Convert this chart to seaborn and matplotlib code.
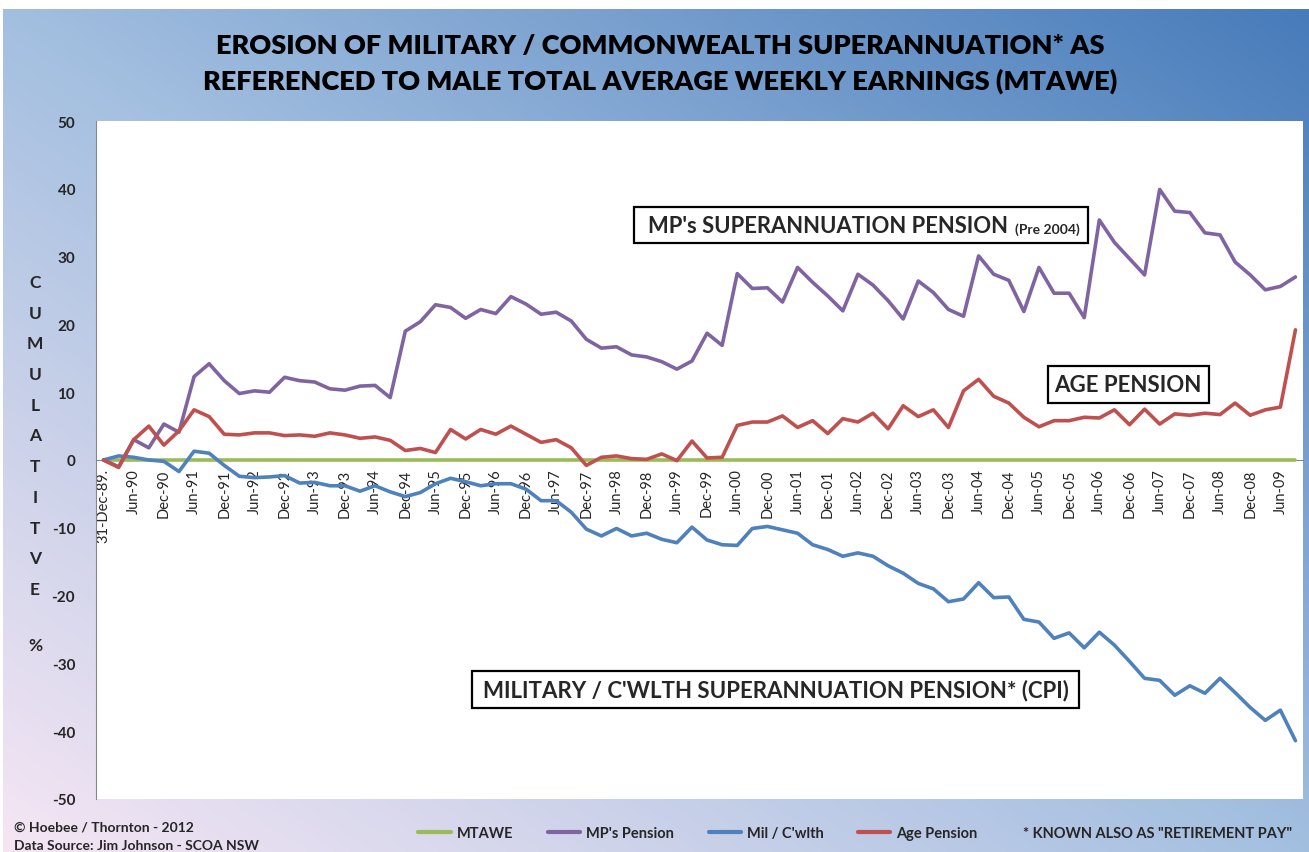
import numpy as np
import pandas as pd
import matplotlib
matplotlib.use("Agg")
import matplotlib.pyplot as plt
import seaborn as sns
from matplotlib.patches import Rectangle
from matplotlib.lines import Line2D

# ---------------- data (quarterly, 31-Dec-89 .. Sep-09) ----------------
tick_labels = ["31-Dec-89.", "Jun-90", "Dec-90", "Jun-91", "Dec-91", "Jun-92", "Dec-92",
               "Jun-93", "Dec-93", "Jun-94", "Dec-94", "Jun-95", "Dec-95", "Jun-96",
               "Dec-96", "Jun-97", "Dec-97", "Jun-98", "Dec-98", "Jun-99", "Dec-99",
               "Jun-00", "Dec-00", "Jun-01", "Dec-01", "Jun-02", "Dec-02", "Jun-03",
               "Dec-03", "Jun-04", "Dec-04", "Jun-05", "Dec-05", "Jun-06", "Dec-06",
               "Jun-07", "Dec-07", "Jun-08", "Dec-08", "Jun-09"]

mp_pension = [0.0, -1.0, 3.0, 1.8, 5.3, 4.1, 12.3, 14.2, 11.7, 9.8,
              10.2, 10.0, 12.2, 11.7, 11.5, 10.5, 10.3, 10.9, 11.0, 9.2,
              19.0, 20.4, 22.9, 22.5, 20.9, 22.2, 21.6, 24.1, 23.0, 21.5,
              21.8, 20.5, 17.8, 16.5, 16.7, 15.5, 15.2, 14.5, 13.4, 14.6,
              18.7, 16.9, 27.5, 25.3, 25.4, 23.3, 28.4, 26.2, 24.2, 22.0,
              27.4, 25.8, 23.5, 20.8, 26.4, 24.7, 22.2, 21.2, 30.1, 27.4,
              26.5, 21.9, 28.4, 24.6, 24.6, 21.0, 35.4, 32.1, 29.7, 27.3,
              39.9, 36.7, 36.5, 33.5, 33.2, 29.2, 27.3, 25.1, 25.6, 27.0]

mil_cwlth = [0.0, 0.6, 0.4, 0.0, -0.2, -1.7, 1.3, 1.0, -0.8, -2.4,
             -2.6, -2.5, -2.3, -3.4, -3.3, -3.8, -3.8, -4.6, -3.8, -4.7,
             -5.4, -4.8, -3.5, -2.7, -3.2, -3.8, -3.5, -3.5, -4.3, -6.0,
             -6.0, -7.7, -10.2, -11.2, -10.1, -11.2, -10.8, -11.7, -12.2, -9.9,
             -11.8, -12.5, -12.6, -10.1, -9.8, -10.3, -10.8, -12.5, -13.2, -14.2,
             -13.7, -14.2, -15.6, -16.7, -18.2, -19.0, -20.9, -20.5, -18.1, -20.3,
             -20.2, -23.5, -23.9, -26.3, -25.5, -27.7, -25.4, -27.3, -29.7, -32.2,
             -32.5, -34.7, -33.3, -34.4, -32.2, -34.3, -36.5, -38.4, -36.9, -41.4]

age_pension = [0.0, -1.1, 3.0, 5.0, 2.2, 4.3, 7.4, 6.4, 3.8, 3.7,
               4.0, 4.0, 3.6, 3.7, 3.5, 4.0, 3.7, 3.2, 3.4, 2.9,
               1.4, 1.7, 1.1, 4.5, 3.1, 4.5, 3.8, 5.0, 3.8, 2.6,
               3.0, 1.8, -0.8, 0.4, 0.6, 0.2, 0.1, 0.9, -0.1, 2.8,
               0.3, 0.4, 5.1, 5.6, 5.6, 6.5, 4.8, 5.8, 3.9, 6.1,
               5.6, 6.9, 4.6, 8.0, 6.4, 7.4, 4.8, 10.2, 11.9, 9.4,
               8.4, 6.3, 4.9, 5.8, 5.8, 6.3, 6.2, 7.4, 5.2, 7.5,
               5.3, 6.8, 6.6, 6.9, 6.7, 8.4, 6.6, 7.4, 7.8, 19.2]

mtawe = [0.0] * len(mp_pension)

series_names = ["MTAWE", "MP's Pension", "Mil / C'wlth", "Age Pension"]
series_colors = ["#9BBB59", "#8064A2", "#4F81BD", "#C0504D"]

# ---------------- figure ----------------
sns.set_style("white")
plt.rcParams["font.family"] = ["Lato", "DejaVu Sans"]

W, H = 1309, 853
fig = plt.figure(figsize=(W / 100, H / 100), dpi=100)
fig.patch.set_facecolor("white")

# gradient background
bg = fig.add_axes([3 / W, 0, 1 - 3 / W, 843 / H], zorder=-5)
ny, nx = 200, 300
xx, yy = np.meshgrid(np.linspace(0, 1, nx), np.linspace(1, 0, ny))
t = (xx + yy) / 2.0
c0 = np.array([0xF6, 0xE6, 0xF4]) / 255.0   # bottom-left pink
c1 = np.array([0xA3, 0xBF, 0xE0]) / 255.0   # middle light blue
c2 = np.array([0x47, 0x7B, 0xBA]) / 255.0   # top-right dark blue
lo = t <= 0.5
img = np.where(lo[..., None], c0 + (c1 - c0) * (t / 0.5)[..., None],
               c1 + (c2 - c1) * ((t - 0.5) / 0.5)[..., None])
bg.imshow(img, aspect="auto", extent=[0, 1, 0, 1], origin="upper", interpolation="bilinear")
bg.set_axis_off()

ax = fig.add_axes([96 / W, 1 - 800 / H, (1303 - 96) / W, (800 - 122) / H])
ax.set_facecolor("white")

n = len(mp_pension)
idx = np.arange(n)
df = pd.DataFrame({"q": np.tile(idx, 4),
                   "value": np.concatenate([mtawe, mp_pension, mil_cwlth, age_pension]),
                   "series": np.repeat(series_names, n)})
sns.lineplot(data=df, x="q", y="value", hue="series", hue_order=series_names,
             palette=series_colors, linewidth=2.6, ax=ax, legend=False, sort=False)
for ln in ax.get_lines():
    ln.set_zorder(3)
    ln.set_solid_joinstyle("round")

ax.set_xlim(-0.5, n - 0.5)
ax.set_ylim(-50, 50)
ax.set_yticks(np.arange(-50, 51, 10))
ax.set_yticklabels([str(v) for v in range(-50, 51, 10)], fontsize=11, fontweight="bold")
ax.tick_params(axis="y", length=5, width=0.8, color="#868686", direction="out", pad=10)

# x axis at zero
ax.spines["bottom"].set_position(("data", 0))
ax.spines["bottom"].set_color("#868686")
for sp in ["top", "right"]:
    ax.spines[sp].set_visible(False)
ax.spines["left"].set_color("#868686")
ax.set_xticks(np.arange(0, n, 2))
ax.set_xticklabels(tick_labels, rotation=90, fontsize=10.5, va="top", ha="center")
ax.set_xticks(np.arange(-0.5, n, 1), minor=True)
ax.tick_params(axis="x", which="major", length=0, pad=6)
ax.tick_params(axis="x", which="minor", length=5, width=0.8, color="#868686", direction="out")
ax.set_xlabel("")
ax.set_ylabel("")

# ---------------- title ----------------
fig.text(660 / W, 1 - 46 / H, "EROSION OF MILITARY / COMMONWEALTH SUPERANNUATION* AS",
         ha="center", va="center", fontsize=19.5, fontweight="heavy", color="black")
fig.text(660 / W, 1 - 81 / H, "REFERENCED TO MALE TOTAL AVERAGE WEEKLY EARNINGS (MTAWE)",
         ha="center", va="center", fontsize=19.5, fontweight="heavy", color="black")

# vertical y label
ylabel_letters = "CUMULATITVE"
for k, ch in enumerate(ylabel_letters):
    fig.text(35 / W, 1 - (283 + k * 30.7) / H, ch, ha="center", va="center",
             fontsize=12.5, fontweight="bold")
fig.text(35 / W, 1 - 646 / H, "%", ha="center", va="center", fontsize=12.5, fontweight="bold")

# ---------------- annotation boxes ----------------
def box(x0, y0, x1, y1):
    r = Rectangle((x0 / W, 1 - y1 / H), (x1 - x0) / W, (y1 - y0) / H,
                  transform=fig.transFigure, facecolor="white", edgecolor="black",
                  linewidth=1.6, zorder=5)
    fig.add_artist(r)

box(634, 208, 1088, 244)
fig.text(648 / W, 1 - 227 / H, "MP's SUPERANNUATION PENSION", ha="left", va="center",
         fontsize=15.8, fontweight="bold", zorder=6)
fig.text(1080 / W, 1 - 230 / H, "(Pre 2004)", ha="right", va="center",
         fontsize=10, fontweight="bold", zorder=6)

box(1048, 367, 1209, 404)
fig.text(1128 / W, 1 - 386 / H, "AGE PENSION", ha="center", va="center",
         fontsize=16, fontweight="bold", zorder=6)

box(472, 672, 1079, 709)
fig.text(776 / W, 1 - 691 / H, "MILITARY / C'WLTH SUPERANNUATION PENSION* (CPI)",
         ha="center", va="center", fontsize=16, fontweight="bold", zorder=6)

# ---------------- footer ----------------
fig.text(14 / W, 1 - 828 / H, "© Hoebee / Thornton - 2012", ha="left", va="center",
         fontsize=10, fontweight="bold")
fig.text(14 / W, 1 - 846 / H, "Data Source: Jim Johnson - SCOA NSW", ha="left", va="center",
         fontsize=10, fontweight="bold")
fig.text(1023 / W, 1 - 834 / H, '* KNOWN ALSO AS "RETIREMENT PAY"', ha="left", va="center",
         fontsize=10.5, fontweight="bold")

handles = [Line2D([0], [0], color=c, lw=3) for c in series_colors]
fig.legend(handles, series_names, loc="center", bbox_to_anchor=(698 / W, 1 - 834 / H),
           ncol=4, frameon=False, handlelength=2.2, handletextpad=0.4,
           columnspacing=2.4, prop={"weight": "bold", "size": 10.5})

fig.savefig("out.png", dpi=100)
